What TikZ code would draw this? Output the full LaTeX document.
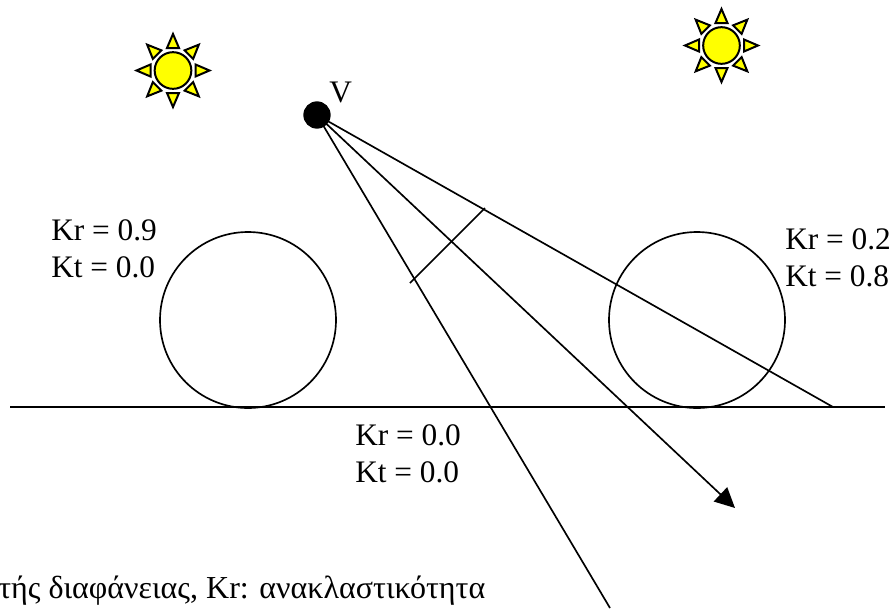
\documentclass[tikz,border=0pt]{standalone}
\usepackage{fontspec}
\setmainfont{Liberation Serif}
\usetikzlibrary{arrows.meta,calc}
\definecolor{sunyellow}{RGB}{255,255,0}
\tikzset{
  ray/.style={draw=black,line width=1.5pt,line join=miter,fill=sunyellow},
  sunball/.style={circle,draw=black,line width=1.5pt,fill=sunyellow,inner sep=0pt,minimum size=27.5pt},
  ball/.style={circle,draw=black,line width=1.25pt,inner sep=0pt,minimum size=132pt},
  eye/.style={circle,fill=black,inner sep=0pt,minimum size=20.5pt},
  conn/.style={draw=black,line width=1.25pt},
  lab/.style={font=\fontsize{23.5}{28}\selectfont,align=left,inner sep=0pt},
  captext/.style={font=\fontsize{24}{28}\selectfont,anchor=base west,inner sep=0pt}
}
\newcommand{\drawsun}[1]{%
  \foreach \a in {0,45,...,315}{
    \begin{scope}[shift={(#1.center)},rotate=\a]
      \path[ray] (22.5,6) -- (36.5,0) -- (22.5,-6) -- cycle;
    \end{scope}
  }
}
\begin{document}
\begin{tikzpicture}[x=0.75pt,y=-0.75pt]
\useasboundingbox (0,0) rectangle (893,608);
\clip (0,0) rectangle (893,608);
\node[sunball] (s1) at (173,70.5) {};
\drawsun{s1}
\node[sunball] (s2) at (721.5,45.5) {};
\drawsun{s2}
\node[ball] (c1) at (248,320) {};
\node[ball] (c2) at (697,320) {};
\coordinate (gl) at (10,407);
\coordinate (gr) at (885,407);
\coordinate (hit) at (833,407);
\coordinate (bot) at (610,608);
\coordinate (tip) at (735,508);
\coordinate (x1) at (410,283);
\coordinate (x2) at (485,208);
\node[eye] (v) at (317,115) {};
\draw[conn] (gl) -- (gr);
\draw[conn] (v.center) -- (hit);
\draw[conn] (v.center) -- (bot);
\draw[conn,-{Triangle[length=15pt,width=14.5pt]}] (v.center) -- (tip);
\draw[conn] (x1) -- (x2);
\node[lab,anchor=base west] (lv) at (329,102.5) {V};
\node[lab,anchor=north west] (l1) at (51,219) {Kr = 0.9\\Kt = 0.0};
\node[lab,anchor=north west] (l2) at (785,228) {Kr = 0.2\\Kt = 0.8};
\node[lab,anchor=north west] (l3) at (355,424) {Kr = 0.0\\Kt = 0.0};
\node[captext] (capt) at (-2,598) {τής διαφάνειας, Kr: ανακλαστικότητα};
\end{tikzpicture}
\end{document}
